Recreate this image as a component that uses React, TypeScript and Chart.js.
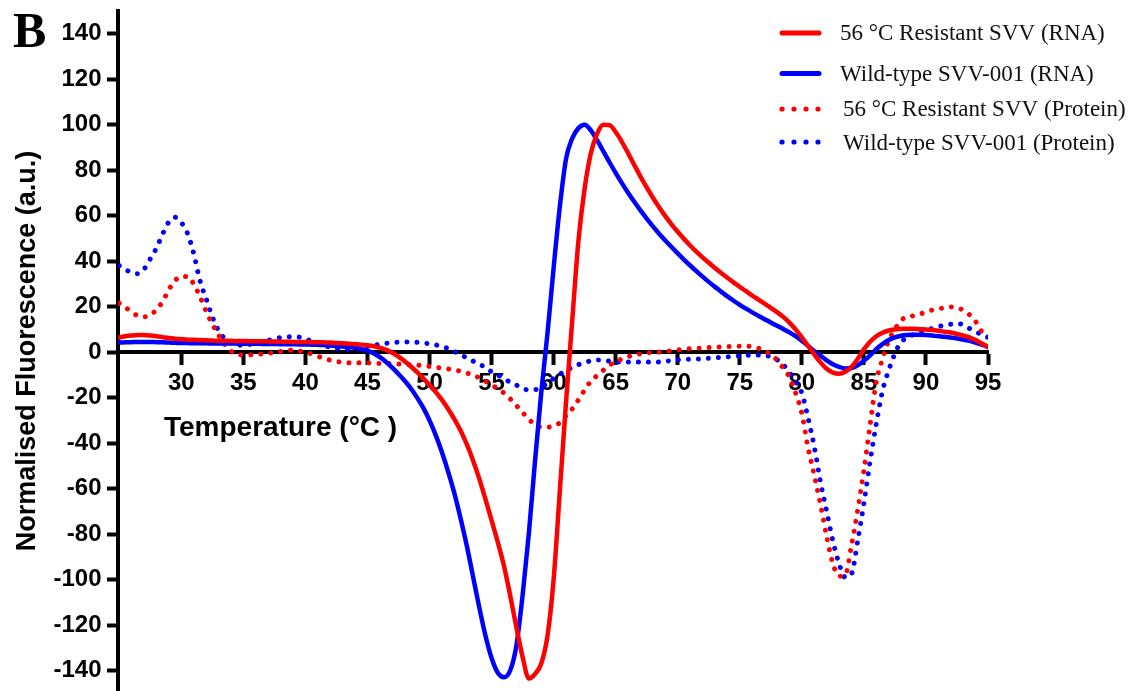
import React, { useEffect, useRef } from 'react';
import { Chart, registerables } from 'chart.js';

Chart.register(...registerables);

// Temperature steps (°C) shared by all four melt curves
const temperatures = [
  25, 25.5, 26, 26.5, 27, 27.5, 28, 28.5, 29, 29.5,
  30, 30.5, 31, 31.5, 32, 32.5, 33, 33.5, 34, 34.5,
  35, 35.5, 36, 36.5, 37, 37.5, 38, 38.5, 39, 39.5,
  40, 40.5, 41, 41.5, 42, 42.5, 43, 43.5, 44, 44.5,
  45, 45.5, 46, 46.5, 47, 47.5, 48, 48.5, 49, 49.5,
  50, 50.5, 51, 51.5, 52, 52.5, 53, 53.5, 54, 54.5,
  55, 55.5, 56, 56.5, 57, 57.5, 58, 58.5, 59, 59.5,
  60, 60.5, 61, 61.5, 62, 62.5, 63, 63.5, 64, 64.5,
  65, 65.5, 66, 66.5, 67, 67.5, 68, 68.5, 69, 69.5,
  70, 70.5, 71, 71.5, 72, 72.5, 73, 73.5, 74, 74.5,
  75, 75.5, 76, 76.5, 77, 77.5, 78, 78.5, 79, 79.5,
  80, 80.5, 81, 81.5, 82, 82.5, 83, 83.5, 84, 84.5,
  85, 85.5, 86, 86.5, 87, 87.5, 88, 88.5, 89, 89.5,
  90, 90.5, 91, 91.5, 92, 92.5, 93, 93.5, 94, 94.5,
  95,
];

// 56 °C resistant SVV, RNA dye
const resistantRna = [
  6.5, 7.0, 7.3, 7.5, 7.5, 7.3, 7.0, 6.6, 6.2, 5.9,
  5.7, 5.5, 5.4, 5.3, 5.2, 5.1, 5.0, 5.0, 5.0, 4.9,
  4.9, 4.8, 4.8, 4.8, 4.7, 4.7, 4.6, 4.6, 4.5, 4.5,
  4.5, 4.4, 4.4, 4.3, 4.2, 4.0, 3.9, 3.7, 3.5, 3.3,
  3.0, 2.6, 2.0, 1.0, -0.3, -2.0, -4.0, -6.3, -8.8, -11.5,
  -14.5, -17.5, -21, -25, -29.5, -34.5, -40.5, -47.5, -55.5, -64.5,
  -74, -83.5, -94, -107, -121, -134, -143.5, -141.5, -137, -125,
  -100, -61, -22, 14, 49, 72, 87.5, 96, 100, 99.8,
  96.8, 92.5, 87.5, 82.3, 77.2, 72.4, 67.9, 63.7, 59.8, 56.2,
  52.9, 49.8, 46.9, 44.2, 41.7, 39.3, 37, 34.8, 32.7, 30.7,
  28.7, 26.8, 24.9, 23.1, 21.3, 19.5, 17.6, 15.5, 13, 10,
  6.5, 2.8, -1, -4.5, -7.3, -9, -9.5, -8.6, -6.5, -3,
  1.2, 4.6, 7, 8.5, 9.5, 10, 10.3, 10.3, 10.3, 10.1,
  10, 9.7, 9.4, 9, 8.6, 8, 7.3, 6.5, 5.3, 3.8,
  2.3,
];

// Wild-type SVV-001, RNA dye
const wildTypeRna = [
  4.2, 4.3, 4.4, 4.5, 4.5, 4.5, 4.4, 4.3, 4.2, 4.1,
  4.0, 4.0, 3.9, 3.9, 3.9, 3.8, 3.8, 3.8, 3.8, 3.7,
  3.7, 3.7, 3.7, 3.6, 3.6, 3.6, 3.5, 3.5, 3.5, 3.4,
  3.4, 3.3, 3.2, 3.1, 2.9, 2.7, 2.5, 2.2, 1.9, 1.4,
  0.7, -0.5, -2.2, -4.3, -6.8, -9.6, -12.6, -16, -20, -24.5,
  -30, -36.5, -44, -52.5, -62, -73, -85, -98.5, -112, -124.5,
  -134.5, -141, -143, -140, -129, -107, -80, -48, -18, 8,
  37, 64, 85, 94, 98.5, 100, 97.5, 93.2, 88.4, 83.5,
  78.8, 74.3, 70.1, 66.1, 62.3, 58.7, 55.3, 52.1, 49.1, 46.2,
  43.4, 40.7, 38.1, 35.6, 33.2, 30.9, 28.7, 26.6, 24.5, 22.6,
  20.8, 19.1, 17.5, 16, 14.5, 13, 11.6, 10.2, 8.7, 7,
  5, 2.8, 0.5, -1.6, -3.6, -5.3, -6.5, -7.2, -7, -5.8,
  -3.8, -1.4, 1.3, 3.5, 5.3, 6.5, 7.2, 7.5, 7.6, 7.6,
  7.5, 7.3, 7, 6.8, 6.4, 6, 5.5, 5, 4.2, 3.3,
  2.3,
];

// 56 °C resistant SVV, protein dye
const resistantProtein = [
  21.5, 19.7, 17.5, 16, 15.5, 16.3, 18.7, 22.3, 27.5, 31.5,
  33.3, 33.3, 30, 24.5, 18, 12.3, 7.5, 3.5, 0.5, -1.2,
  -1.3, -1.2, -1, -0.8, -0.5, -0.2, 0.3, 0.8, 0.8, 0.5,
  0, -0.8, -1.8, -2.8, -3.5, -4.1, -4.5, -4.7, -4.7, -4.7,
  -4.7, -4.9, -5, -5, -5, -5.2, -5.4, -5.5, -5.7, -6,
  -6.3, -6.7, -7, -7.4, -7.8, -8.4, -9.2, -10, -11.3, -12.8,
  -14.5, -16, -18, -20.5, -23.5, -26.5, -29.5, -31.8, -33, -33,
  -32.5, -31, -28, -25, -21, -16.7, -12.8, -10.3, -8, -5.8,
  -4.3, -3, -2, -1.2, -0.7, -0.3, -0.2, 0, 0.3, 0.6,
  1, 1.2, 1.5, 1.7, 1.8, 2, 2.1, 2.3, 2.4, 2.5,
  2.6, 2.6, 2.4, 1.7, 0.5, -1, -3.5, -7, -11, -18,
  -27, -42, -54, -67, -81, -93, -98.5, -98, -85, -69.5,
  -52, -32, -13, -3, 5, 10, 14, 15.5, 16, 16.7,
  17.7, 18.5, 19, 19.5, 19.9, 19.5, 18.5, 16.5, 13.5, 9,
  7,
];

// Wild-type SVV-001, protein dye
const wildTypeProtein = [
  38, 36.3, 35, 34.5, 36.5, 41, 45.8, 52, 57.3, 59.3,
  57, 52.2, 43.4, 31.5, 23.5, 15.5, 9.5, 6, 4, 3,
  3.1, 3.4, 3.8, 4.6, 5.2, 5.9, 6.4, 6.7, 6.8, 6.6,
  5.8, 4.8, 3.8, 2.9, 2.1, 1.6, 1.3, 1.2, 1.3, 1.8,
  2.4, 3, 3.5, 3.9, 4.2, 4.4, 4.5, 4.4, 4.3, 4,
  3.7, 3.2, 2.5, 1.6, 0.3, -1.1, -2.5, -3.9, -5.2, -6.8,
  -8.6, -10, -11.8, -13.2, -14.5, -16, -16.6, -16.5, -15.5, -13.5,
  -11.5, -9.7, -8, -6.7, -5.5, -4.6, -3.8, -3.5, -3.6, -4,
  -4.3, -4.3, -4.3, -4.3, -4.3, -4.3, -4.3, -4.3, -4, -3.7,
  -3.4, -3.2, -3.1, -3, -2.9, -2.7, -2.5, -2.3, -2.1, -1.8,
  -1.6, -1.4, -1.3, -1.3, -1.5, -2, -3.3, -5.5, -9, -13,
  -18, -29, -41.6, -57, -70, -83, -93, -99, -97.5, -83,
  -66.5, -48, -31.5, -17, -8, -0.6, 4.5, 6.2, 7.8, 9,
  9.8, 10.4, 11.2, 11.9, 12.3, 12.6, 12, 10.4, 9, 7.7,
  6.5,
];

const seriesLabels = [
  '56 °C Resistant SVV (RNA)',
  'Wild-type SVV-001 (RNA)',
  '56 °C Resistant SVV (Protein)',
  'Wild-type SVV-001 (Protein)',
];

const xTickValues = [30, 35, 40, 45, 50, 55, 60, 65, 70, 75, 80, 85, 90, 95];
const yTickValues = [-140, -120, -100, -80, -60, -40, -20, 0, 20, 40, 60, 80, 100, 120, 140];

const xTitle = 'Temperature (°C )';
const yTitle = 'Normalised Fluorescence (a.u.)';
const panelLetter = 'B';

const RED = '#f00';
const BLUE = '#00f';
const SANS = '"Liberation Sans", Arial, Helvetica, sans-serif';
const SERIF = '"Liberation Serif", "Times New Roman", Times, serif';

const toPoints = (values: number[]) => temperatures.map((t, i) => ({ x: t, y: values[i] }));

// Legend rows placed in the upper right of the plot
const legendRows = [
  { y: 33, textX: 840, textY: 40 },
  { y: 73.5, textX: 840, textY: 80.5 },
  { y: 109, textX: 843, textY: 116 },
  { y: 142, textX: 843, textY: 149.5 },
];

const figureTextPlugin = {
  id: 'figureText',
  afterDraw(chart: any) {
    const ctx: CanvasRenderingContext2D = chart.ctx;
    ctx.save();
    ctx.fillStyle = '#000';
    ctx.textAlign = 'left';
    ctx.textBaseline = 'alphabetic';

    ctx.font = `bold 50px ${SERIF}`;
    ctx.fillText(panelLetter, 13, 47);

    ctx.font = `bold 28px ${SANS}`;
    ctx.fillText(xTitle, 164, 436);

    ctx.save();
    ctx.translate(35, 351);
    ctx.rotate(-Math.PI / 2);
    ctx.textAlign = 'center';
    ctx.font = `bold 27px ${SANS}`;
    ctx.fillText(yTitle, 0, 0);
    ctx.restore();

    chart.data.datasets.forEach((ds: any, i: number) => {
      const row = legendRows[i];
      const dotted = Array.isArray(ds.borderDash) && ds.borderDash.length > 0;
      ctx.strokeStyle = ds.borderColor;
      ctx.fillStyle = ds.borderColor;
      if (dotted) {
        for (let k = 0; k < 4; k++) {
          ctx.beginPath();
          ctx.arc(782 + k * 12, row.y, 2.6, 0, Math.PI * 2);
          ctx.fill();
        }
      } else {
        ctx.lineWidth = 5;
        ctx.lineCap = 'round';
        ctx.beginPath();
        ctx.moveTo(782, row.y);
        ctx.lineTo(819, row.y);
        ctx.stroke();
      }
      ctx.fillStyle = '#111';
      ctx.font = `23px ${SERIF}`;
      ctx.fillText(ds.label, row.textX, row.textY);
    });
    ctx.restore();
  },
};

export default function App() {
  const canvasRef = useRef<HTMLCanvasElement>(null);

  useEffect(() => {
    const canvas = canvasRef.current;
    if (!canvas) return;

    const solid = { borderWidth: 4.5, borderDash: [] as number[], borderCapStyle: 'round' as const };
    const dotted = { borderWidth: 5, borderDash: [0.01, 10], borderCapStyle: 'round' as const };

    const chart = new Chart(canvas, {
      type: 'line',
      data: {
        datasets: [
          { label: seriesLabels[0], data: toPoints(resistantRna), borderColor: RED, ...solid },
          { label: seriesLabels[1], data: toPoints(wildTypeRna), borderColor: BLUE, ...solid },
          { label: seriesLabels[2], data: toPoints(resistantProtein), borderColor: RED, ...dotted },
          { label: seriesLabels[3], data: toPoints(wildTypeProtein), borderColor: BLUE, ...dotted },
        ].map((d) => ({
          ...d,
          pointRadius: 0,
          pointHoverRadius: 0,
          fill: false,
          cubicInterpolationMode: 'monotone' as const,
          borderJoinStyle: 'round' as const,
        })),
      },
      options: {
        responsive: false,
        animation: false,
        devicePixelRatio: 1,
        layout: { padding: { left: 0, top: 11, right: 147, bottom: 0 } },
        plugins: {
          legend: { display: false },
          tooltip: { enabled: false },
          title: { display: false },
        },
        scales: {
          x: {
            type: 'linear',
            min: 24.9,
            max: 95,
            position: { y: 0 } as any,
            afterBuildTicks: (scale: any) => {
              scale.ticks = xTickValues.map((v) => ({ value: v }));
            },
            afterFit: (scale: any) => {
              scale.paddingLeft = 0;
              scale.paddingRight = 0;
            },
            ticks: {
              autoSkip: false,
              maxRotation: 0,
              padding: 6,
              color: '#000',
              font: { family: SANS, size: 24, weight: 'bold' },
            },
            grid: {
              display: true,
              drawOnChartArea: false,
              drawTicks: true,
              tickLength: 11,
              tickWidth: 4,
              tickColor: '#000',
            },
            border: { display: true, width: 4, color: '#000' },
          },
          y: {
            type: 'linear',
            min: -149,
            max: 150,
            afterBuildTicks: (scale: any) => {
              scale.ticks = yTickValues.map((v) => ({ value: v }));
            },
            afterFit: (scale: any) => {
              scale.width = 118;
              scale.paddingTop = 0;
              scale.paddingBottom = 0;
            },
            ticks: {
              autoSkip: false,
              padding: 5.5,
              color: '#000',
              font: { family: SANS, size: 24, weight: 'bold' },
            },
            grid: {
              display: true,
              drawOnChartArea: false,
              drawTicks: true,
              tickLength: 11,
              tickWidth: 4,
              tickColor: '#000',
            },
            border: { display: true, width: 4, color: '#000' },
          },
        },
      },
      plugins: [figureTextPlugin],
    });

    return () => chart.destroy();
  }, []);

  return (
    <div style={{ position: 'fixed', left: 0, top: 0, width: 1135, height: 691, background: '#fff' }}>
      <canvas ref={canvasRef} width={1135} height={691} style={{ display: 'block', width: 1135, height: 691 }} />
    </div>
  );
}
